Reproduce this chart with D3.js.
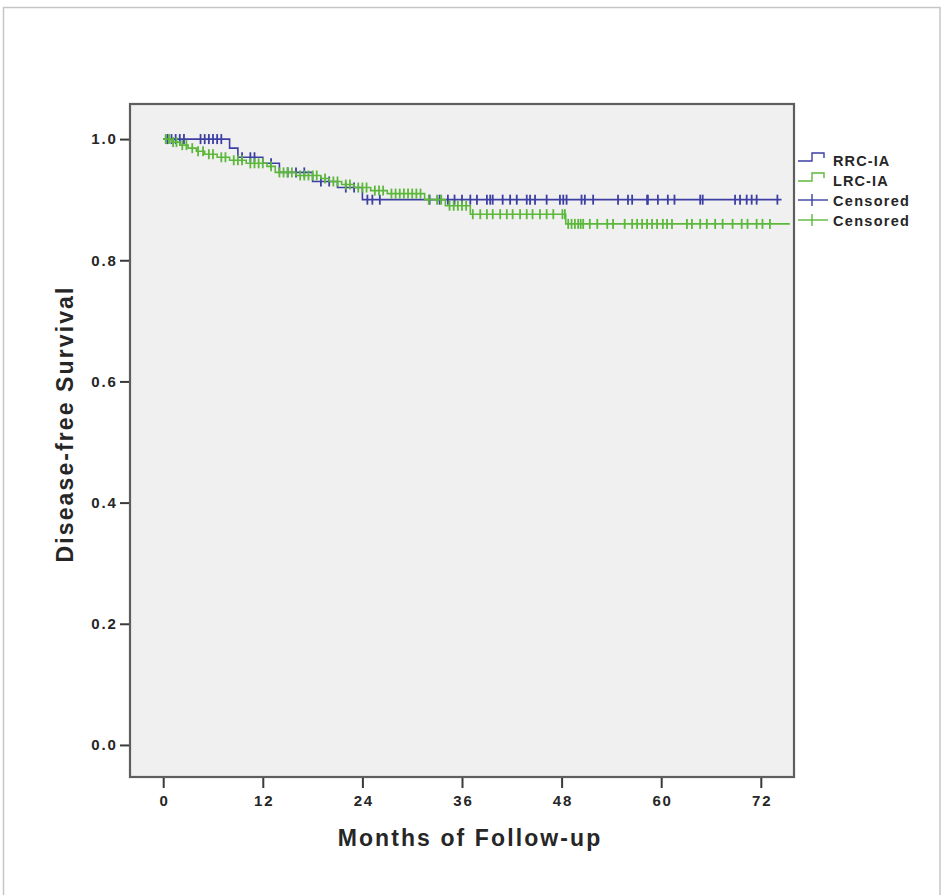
<!DOCTYPE html>
<html>
<head>
<meta charset="utf-8">
<script src="https://cdn.jsdelivr.net/npm/d3@7"></script>
<style>
  html, body { margin: 0; padding: 0; background: #ffffff; }
  svg text { font-family: "Liberation Sans", Arial, sans-serif; font-weight: bold; fill: #262626; }
</style>
</head>
<body>
<svg id="chart" width="942" height="895"></svg>
<script>
// Kaplan-Meier step data: event times (months) and survival after each step
const rrcTimes    = [0, 8.0, 9.0, 12.0, 14.0, 18.0, 21.0, 24.0];
const rrcSurvival = [1.0, 0.985, 0.97, 0.96, 0.945, 0.93, 0.92, 0.90];
const rrcEnd = 74.5;
const rrcCensored = [0.5, 1, 1.5, 2, 2.5, 4.5, 5, 5.5, 6, 6.5, 7,
  9.5, 10.5, 11, 13, 15, 16, 17, 19, 20, 22, 23,
  24.6, 25.2, 26.1, 32.1, 33.3, 34.3, 35.1, 36.0, 37.0, 37.8, 39.0, 39.4, 39.7, 40.9,
  41.8, 42.6, 43.8, 44.2, 44.8, 46.2, 47.8, 48.2, 48.6, 50.4, 50.8, 51.8, 54.8, 56,
  56.5, 58.3, 58.4, 59.6, 60.8, 61.6, 64.7, 65, 68.9, 69.5, 70.3, 70.9, 71.5, 74];

const lrcTimes    = [0, 1.0, 2.0, 3.0, 4.0, 5.0, 6.5, 8.0, 10.0, 12.5, 13.5, 16.0, 19.0, 20.0,
  21.5, 23.0, 25.0, 27.0, 31.5, 34.0, 37.0, 48.5];
const lrcSurvival = [1.0, 0.995, 0.99, 0.985, 0.98, 0.975, 0.97, 0.965, 0.96, 0.955, 0.945, 0.94,
  0.935, 0.93, 0.925, 0.92, 0.915, 0.91, 0.90, 0.89, 0.876, 0.86];
const lrcEnd = 75.5;
const lrcCensored = [0.3, 0.7, 1.2, 1.6, 2.3, 2.8, 3.5, 4.2, 4.8, 5.5, 6, 7, 7.5, 8.5, 9, 9.5,
  10.5, 11, 11.5, 12, 13, 14, 14.5, 15, 15.5, 16.5, 17, 17.5, 18, 18.5, 19.5, 20.5, 21, 22,
  22.5, 23.5, 24, 24.5, 25.5, 26, 26.5, 27.5, 28, 28.5, 29, 29.5, 30, 30.5, 31, 32, 33, 33.5,
  34.5, 35, 35.5, 36, 36.5, 37.3, 38.2, 39, 39.7, 40.6, 41.4, 42.1, 43, 43.8, 44.5, 45.4,
  46.2, 47, 48.1, 48.4, 48.8, 49.2, 49.6, 50, 50.3, 50.6, 51.4, 52.3, 53.5, 54.2, 55.6, 56.5,
  57.1, 57.7, 58.3, 58.9, 59.5, 60.2, 60.7, 61.3, 63.1, 63.7, 64.7, 65.5, 66.5, 67.4, 68.6,
  69.7, 70.4, 71.5, 72.2, 73.1];

const xTicks = [0, 12, 24, 36, 48, 60, 72];
const yTicks = [0.0, 0.2, 0.4, 0.6, 0.8, 1.0];
const seriesNames = ["RRC-IA", "LRC-IA"];
const censorLabel = "Censored";
const xTitle = "Months of Follow-up";
const yTitle = "Disease-free Survival";

const blue = "#3d3fa3";
const green = "#5cb83a";

const svg = d3.select("#chart");

// outer frame
svg.append("rect").attr("x", 3.5).attr("y", 7.5).attr("width", 936.5).attr("height", 900)
  .attr("fill", "none").attr("stroke", "#c6c6c6").attr("stroke-width", 1.5);

const plot = { left: 130, top: 104, right: 794, bottom: 777 };
const x = d3.scaleLinear().domain([-4, 76]).range([plot.left, plot.right]);
const y = d3.scaleLinear().domain([-0.0529, 1.0579]).range([plot.bottom, plot.top]);

// plot background and frame
svg.append("rect").attr("x", plot.left).attr("y", plot.top)
  .attr("width", plot.right - plot.left).attr("height", plot.bottom - plot.top)
  .attr("fill", "#f0f0f0").attr("stroke", "#5e5e5e").attr("stroke-width", 2.2);

// axes
const yAxis = d3.axisLeft(y).tickValues(yTicks).tickFormat(d3.format(".1f")).tickSize(9).tickPadding(4);
const yg = svg.append("g").attr("transform", `translate(${plot.left - 1},0)`).call(yAxis);
yg.select(".domain").remove();
yg.selectAll(".tick line").attr("stroke", "#3a3a3a").attr("stroke-width", 2);
yg.selectAll(".tick text").attr("font-size", 15).attr("letter-spacing", 1.8)
  .attr("font-family", "Liberation Sans, Arial, sans-serif").attr("fill", "#262626").attr("dx", 1.6);

const xAxis = d3.axisBottom(x).tickValues(xTicks).tickSize(10).tickPadding(7);
const xg = svg.append("g").attr("transform", `translate(0,${plot.bottom + 1})`).call(xAxis);
xg.select(".domain").remove();
xg.selectAll(".tick line").attr("stroke", "#3a3a3a").attr("stroke-width", 2);
xg.selectAll(".tick text").attr("font-size", 15).attr("letter-spacing", 1.8)
  .attr("font-family", "Liberation Sans, Arial, sans-serif").attr("fill", "#262626").attr("dx", 0.9);

// axis titles
svg.append("text").attr("x", 470).attr("y", 846).attr("text-anchor", "middle")
  .attr("font-size", 23).attr("letter-spacing", 2.1).text(xTitle);
svg.append("text").attr("transform", "translate(73,424) rotate(-90)").attr("text-anchor", "middle")
  .attr("font-size", 23).attr("letter-spacing", 2.1).text(yTitle);

// survival curves
function stepPoints(times, surv, end) {
  const pts = times.map((t, i) => [t, surv[i]]);
  pts.push([end, surv[surv.length - 1]]);
  return pts;
}
function survivalAt(times, surv, t) {
  let s = surv[0];
  for (let i = 0; i < times.length; i++) if (times[i] <= t) s = surv[i];
  return s;
}
const line = d3.line().x(d => x(d[0])).y(d => y(d[1])).curve(d3.curveStepAfter);

const series = [
  { times: rrcTimes, surv: rrcSurvival, end: rrcEnd, cens: rrcCensored, color: blue },
  { times: lrcTimes, surv: lrcSurvival, end: lrcEnd, cens: lrcCensored, color: green }
];

series.forEach(s => {
  svg.append("path").datum(stepPoints(s.times, s.surv, s.end))
    .attr("d", line).attr("fill", "none").attr("stroke", s.color).attr("stroke-width", 1.6);
  svg.append("g").selectAll("line").data(s.cens).join("line")
    .attr("x1", d => x(d)).attr("x2", d => x(d))
    .attr("y1", d => y(survivalAt(s.times, s.surv, d)) - 5)
    .attr("y2", d => y(survivalAt(s.times, s.surv, d)) + 5)
    .attr("stroke", s.color).attr("stroke-width", 1.8);
});

// legend
const lg = svg.append("g");
const lx = 798, ly = 160, rowH = 20;
[blue, green].forEach((c, i) => {
  const yy = ly + i * rowH;
  lg.append("path").attr("d", `M${lx},${yy + 1}H${lx + 14}V${yy - 7}H${lx + 26}V${yy - 2}`)
    .attr("fill", "none").attr("stroke", c).attr("stroke-width", 1.4);
  lg.append("text").attr("x", lx + 35).attr("y", yy + 6).attr("font-size", 14.5)
    .attr("letter-spacing", 1.1).text(seriesNames[i]);
});
[blue, green].forEach((c, i) => {
  const yy = ly + (i + 2) * rowH;
  lg.append("line").attr("x1", lx).attr("x2", lx + 30).attr("y1", yy).attr("y2", yy)
    .attr("stroke", c).attr("stroke-width", 1.4);
  lg.append("line").attr("x1", lx + 14).attr("x2", lx + 14).attr("y1", yy - 6).attr("y2", yy + 6)
    .attr("stroke", c).attr("stroke-width", 1.4);
  lg.append("text").attr("x", lx + 35).attr("y", yy + 6).attr("font-size", 14.5)
    .attr("letter-spacing", 1.3).text(censorLabel);
});
</script>
</body>
</html>
